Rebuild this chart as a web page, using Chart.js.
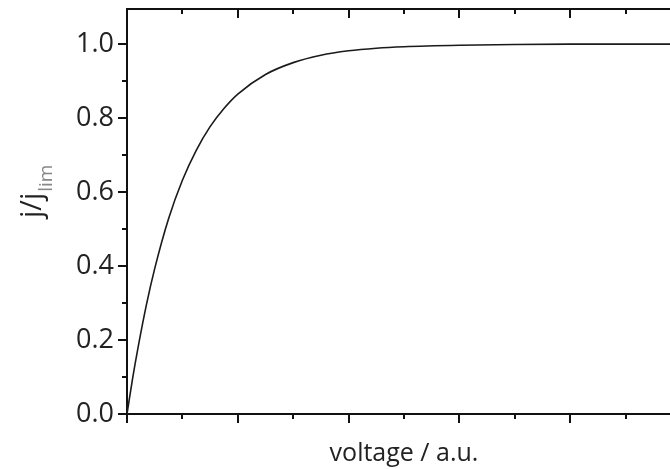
<!DOCTYPE html>
<html>
<head>
<meta charset="utf-8">
<script src="https://cdn.jsdelivr.net/npm/chart.js@4.4.1/dist/chart.umd.min.js"></script>
<style>
  html, body { margin: 0; padding: 0; background: #fff; overflow: hidden; }
  #wrap { width: 670px; height: 469px; overflow: hidden; position: relative; }
  canvas { display: block; }
</style>
</head>
<body>
<div id="wrap">
  <canvas id="curve" width="681" height="469"></canvas>
</div>
<script>
// voltage (a.u.) and normalised current j/j_lim
const voltage = [0, 0.1, 0.2, 0.35, 0.5, 0.75, 1, 1.25, 1.5, 1.75, 2, 2.5, 3, 3.5, 4, 4.5, 5, 6, 7, 8, 9, 10];
const currentRatio = [0, 0.095, 0.18, 0.295, 0.393, 0.528, 0.632, 0.713, 0.777, 0.826, 0.865, 0.918, 0.95, 0.97, 0.982, 0.989, 0.993, 0.997, 0.999, 1.0, 1.0, 1.0];

const yLabelTicks = [0, 0.2, 0.4, 0.6, 0.8, 1.0];
const yMinorTicks = [0.1, 0.3, 0.5, 0.7, 0.9];
const xMajorTicks = [0, 2, 4, 6, 8, 10];
const xMinorTicks = [1, 3, 5, 7, 9];

const ink = '#111';

// tick marks (long/short) and the top frame line
const frameTicks = {
  id: 'frameTicks',
  afterDraw(chart) {
    const { ctx, chartArea: a, scales: { x, y } } = chart;
    ctx.save();
    ctx.strokeStyle = ink;
    ctx.lineWidth = 2;
    ctx.beginPath();
    ctx.moveTo(a.left - 1, a.top);
    ctx.lineTo(a.right + 1, a.top);

    const xTick = (v, len) => {
      const px = Math.round(x.getPixelForValue(v));
      ctx.moveTo(px, a.bottom);
      ctx.lineTo(px, a.bottom + len);
      ctx.moveTo(px, a.top);
      ctx.lineTo(px, a.top + len);
    };
    xMajorTicks.forEach(v => xTick(v, 9));
    xMinorTicks.forEach(v => xTick(v, 5));

    const yTick = (v, len) => {
      const py = Math.round(y.getPixelForValue(v));
      ctx.moveTo(a.left, py);
      ctx.lineTo(a.left - len, py);
    };
    yLabelTicks.forEach(v => yTick(v, 9));
    yMinorTicks.forEach(v => yTick(v, 5));
    ctx.stroke();

    // rotated y title with subscript
    ctx.translate(41, 218);
    ctx.rotate(-Math.PI / 2);
    ctx.textAlign = 'left';
    ctx.textBaseline = 'alphabetic';
    ctx.fillStyle = '#222';
    ctx.font = '29px "Open Sans"';
    const main = 'j/j';
    ctx.fillText(main, 0, 0);
    const w = ctx.measureText(main).width;
    ctx.fillStyle = '#888';
    ctx.font = '19px "Open Sans"';
    ctx.fillText('lim', w + 1, 11);
    ctx.restore();
  }
};

const ctx = document.getElementById('curve').getContext('2d');
new Chart(ctx, {
  type: 'line',
  data: {
    datasets: [{
      data: voltage.map((v, i) => ({ x: v, y: currentRatio[i] })),
      borderColor: '#1a1a1a',
      borderWidth: 1.6,
      pointRadius: 0,
      cubicInterpolationMode: 'monotone',
      fill: false
    }]
  },
  options: {
    responsive: false,
    animation: false,
    devicePixelRatio: 1,
    layout: { padding: { top: 9, right: 0, left: 0, bottom: 0 } },
    plugins: { legend: { display: false }, tooltip: { enabled: false } },
    scales: {
      x: {
        type: 'linear',
        min: 0,
        max: 10,
        grid: { display: false, drawTicks: false },
        border: { display: true, color: ink, width: 2 },
        ticks: { display: false },
        title: {
          display: true,
          text: 'voltage / a.u.',
          color: '#222',
          font: { family: 'Open Sans', size: 25 },
          padding: { top: 0, bottom: 0 }
        },
        afterFit(scale) {
          scale.height = 55;
          scale.paddingLeft = 0;
          scale.paddingRight = 0;
        }
      },
      y: {
        type: 'linear',
        min: 0,
        max: 1.095,
        grid: { display: false, drawTicks: false },
        border: { display: true, color: ink, width: 2 },
        afterBuildTicks(scale) { scale.ticks = yLabelTicks.map(v => ({ value: v })); },
        ticks: {
          color: '#222',
          padding: 13,
          font: { family: 'Open Sans', size: 27 },
          callback: v => Number(v).toFixed(1)
        },
        afterFit(scale) {
          scale.width = 127;
          scale.paddingTop = 0;
          scale.paddingBottom = 0;
        }
      }
    }
  },
  plugins: [frameTicks]
});
</script>
</body>
</html>
